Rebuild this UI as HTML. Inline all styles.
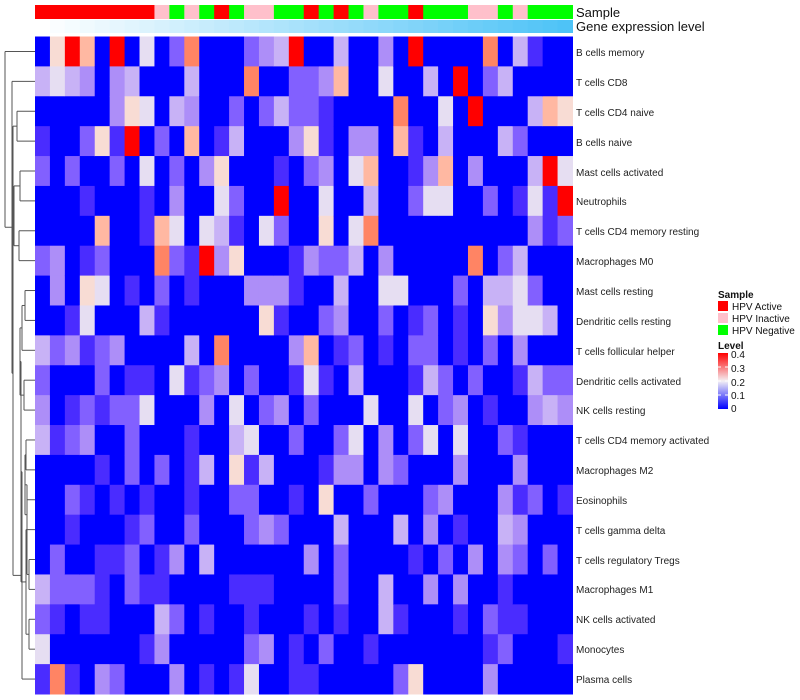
<!DOCTYPE html>
<html><head><meta charset="utf-8">
<style>
html,body{margin:0;padding:0;background:#fff;}
body{width:800px;height:700px;overflow:hidden;position:relative;font-family:"Liberation Sans",sans-serif;}
svg{position:absolute;left:0;top:0;}
.rl{font-size:10px;fill:#222;}
</style></head><body>
<svg id="s" width="800" height="700" xmlns="http://www.w3.org/2000/svg">
<g id="cells"></g>
<g id="dend" stroke="#555" stroke-width="1" fill="none"></g>
<text x="576" y="17" font-size="13" fill="#111">Sample</text>
<text x="576" y="31" font-size="13" fill="#111">Gene expression level</text>
<text class="rl" x="576" y="56">B cells memory</text>
<text class="rl" x="576" y="86">T cells CD8</text>
<text class="rl" x="576" y="116">T cells CD4 naive</text>
<text class="rl" x="576" y="146">B cells naive</text>
<text class="rl" x="576" y="176">Mast cells activated</text>
<text class="rl" x="576" y="205">Neutrophils</text>
<text class="rl" x="576" y="235">T cells CD4 memory resting</text>
<text class="rl" x="576" y="265">Macrophages M0</text>
<text class="rl" x="576" y="295">Mast cells resting</text>
<text class="rl" x="576" y="325">Dendritic cells resting</text>
<text class="rl" x="576" y="355">T cells follicular helper</text>
<text class="rl" x="576" y="385">Dendritic cells activated</text>
<text class="rl" x="576" y="414">NK cells resting</text>
<text class="rl" x="576" y="444">T cells CD4 memory activated</text>
<text class="rl" x="576" y="474">Macrophages M2</text>
<text class="rl" x="576" y="504">Eosinophils</text>
<text class="rl" x="576" y="534">T cells gamma delta</text>
<text class="rl" x="576" y="564">T cells regulatory  Tregs</text>
<text class="rl" x="576" y="593">Macrophages M1</text>
<text class="rl" x="576" y="623">NK cells activated</text>
<text class="rl" x="576" y="653">Monocytes</text>
<text class="rl" x="576" y="683">Plasma cells</text>
<text x="718" y="298" font-size="10" font-weight="bold" fill="#111">Sample</text>
<rect x="718" y="301" width="10" height="10" fill="#ff0000"/>
<text x="732" y="310" font-size="10" fill="#111">HPV Active</text>
<rect x="718" y="313" width="10" height="10" fill="#ffc0cb"/>
<text x="732" y="322" font-size="10" fill="#111">HPV Inactive</text>
<rect x="718" y="325" width="10" height="10" fill="#00ff00"/>
<text x="732" y="334" font-size="10" fill="#111">HPV Negative</text>
<text x="718" y="349" font-size="10" font-weight="bold" fill="#111">Level</text>
<defs><linearGradient id="lg" x1="0" y1="0" x2="0" y2="1">
<stop offset="0" stop-color="#ff0000"/><stop offset="0.5" stop-color="#f4f0f4"/><stop offset="1" stop-color="#0000ff"/></linearGradient></defs>
<rect x="718" y="353" width="10" height="56" fill="url(#lg)"/>
<g stroke="#fff" stroke-width="1"><line x1="718" y1="367" x2="721" y2="367"/><line x1="725" y1="367" x2="728" y2="367"/><line x1="718" y1="381" x2="721" y2="381"/><line x1="725" y1="381" x2="728" y2="381"/><line x1="718" y1="395" x2="721" y2="395"/><line x1="725" y1="395" x2="728" y2="395"/></g>
<g font-size="10" fill="#111">
<text x="731" y="358">0.4</text><text x="731" y="372">0.3</text><text x="731" y="386">0.2</text><text x="731" y="399">0.1</text><text x="731" y="412">0</text></g>
</svg>
<script>
var M=[
[0,6,9,7,0,9,0,5,0,2,8,0,0,0,2,3,4,9,0,0,4,0,0,3,0,9,0,0,0,0,8,0,4,1,0,0],
[4,5,4,3,0,3,4,0,0,0,4,0,0,0,8,0,0,2,2,3,7,0,0,5,0,0,4,0,9,0,2,4,0,0,0,0],
[0,0,0,0,0,3,6,5,0,4,3,0,0,2,0,2,4,2,2,1,0,0,0,0,8,0,0,5,0,9,0,0,0,4,7,6],
[1,0,0,2,6,1,9,0,2,0,7,0,1,4,0,0,0,3,6,1,0,3,3,0,7,1,0,4,0,0,0,4,2,0,0,0],
[2,0,2,0,0,2,0,5,0,2,0,3,6,0,0,0,1,0,2,3,0,5,7,0,0,1,3,7,0,3,0,0,0,4,9,5],
[0,0,0,1,0,0,0,1,0,3,0,0,5,2,0,0,9,0,0,5,0,0,4,0,0,2,5,5,0,0,2,0,1,5,1,9],
[0,0,0,0,7,0,0,1,7,5,0,5,4,1,0,5,2,0,0,6,0,5,8,0,0,0,0,0,0,0,0,0,0,3,1,2],
[2,3,0,1,2,0,0,0,8,2,1,9,3,6,0,0,0,1,3,2,2,4,0,3,0,0,0,0,0,8,0,2,4,0,0,0],
[0,3,0,6,5,0,1,0,2,0,1,0,0,0,3,3,3,1,0,0,4,0,0,5,5,0,0,0,2,0,4,4,5,2,0,0],
[0,0,1,5,0,0,0,4,1,0,0,0,0,0,0,6,1,0,0,2,3,0,0,2,0,1,2,0,1,0,6,3,5,5,4,0],
[4,2,3,1,2,3,0,0,0,0,4,0,8,0,0,0,0,3,7,0,1,2,0,1,0,2,2,0,1,0,2,0,3,0,0,0],
[2,0,0,0,2,0,1,1,0,5,1,2,3,0,2,0,0,1,5,1,0,4,0,0,0,1,4,2,0,2,0,0,1,4,2,2],
[3,0,1,2,1,2,2,5,0,0,0,3,0,5,0,2,3,0,2,0,0,0,5,0,0,5,0,2,3,0,1,0,0,3,4,3],
[4,1,2,3,0,0,2,0,0,0,1,0,0,4,5,0,0,2,0,0,2,5,0,3,0,2,5,0,5,0,0,2,1,0,0,0],
[0,0,0,0,1,0,2,0,2,0,1,4,0,6,1,4,0,0,0,1,3,3,0,3,2,0,0,0,3,0,0,0,3,0,0,0],
[0,0,2,1,0,1,0,1,0,0,1,0,0,2,2,0,0,1,0,6,0,0,2,0,0,0,2,3,0,0,0,3,1,2,0,1],
[0,0,1,0,0,0,1,2,0,0,2,0,0,0,2,3,2,0,0,0,4,0,0,0,4,0,3,0,1,0,0,4,3,0,0,0],
[0,2,0,0,1,1,2,0,1,3,0,4,0,0,0,0,0,0,3,0,2,0,0,0,0,1,0,2,0,3,0,3,2,0,2,0],
[4,2,2,2,1,0,2,1,1,0,0,0,0,1,1,1,0,0,0,0,2,0,0,4,0,0,3,0,3,0,0,1,0,0,0,0],
[2,1,0,1,1,0,0,0,4,2,0,1,0,0,1,0,0,0,1,0,1,0,0,4,1,0,0,0,1,0,2,1,1,0,0,0],
[5,0,0,0,0,0,0,1,3,0,0,0,0,0,2,3,0,1,0,2,0,0,1,0,0,0,0,0,0,0,1,2,0,0,0,1],
[1,8,1,0,3,2,0,0,0,3,0,1,0,1,5,0,0,1,1,0,0,0,0,0,2,6,0,0,0,0,3,0,0,0,0,0]];
var C=["#0000ff","#4a2cff","#8260ff","#ad8ef8","#c8b2f6","#e6def2","#f8dcd4","#ffb8a2","#ff8464","#ff0000"];
var S="RRRRRRRRPGPGRGPPGGRGRGPGGRGGGPPGPGGG";
var SC={R:"#ff0000",P:"#ffc0cb",G:"#00ff00"};
var x0=35,x1=572.5,cw=(x1-x0)/36,y0=36.5,y1=694,rh=(y1-y0)/22;
var ns="http://www.w3.org/2000/svg",g=document.getElementById("cells");
function R(x,y,w,h,f){var r=document.createElementNS(ns,"rect");r.setAttribute("x",x);r.setAttribute("y",y);r.setAttribute("width",w);r.setAttribute("height",h);r.setAttribute("fill",f);g.appendChild(r);}
for(var j=0;j<36;j++){
 var xx=x0+j*cw;
 R(xx,5,cw+0.5,14,SC[S[j]]);
 var t=j/35;var r=Math.round(255+(78-255)*t),gg=Math.round(255+(195-255)*t),b=Math.round(255+(247-255)*t);
 R(xx,20,cw+0.5,13,"rgb("+r+","+gg+","+b+")");
 for(var i=0;i<22;i++){R(xx,y0+i*rh,cw+0.5,rh+0.5,C[M[i][j]]);}
}
var d=document.getElementById("dend");
function L(a,b,c,e){var l=document.createElementNS(ns,"line");l.setAttribute("x1",a);l.setAttribute("y1",b);l.setAttribute("x2",c);l.setAttribute("y2",e);d.appendChild(l);}
function yc(i){return y0+(i+0.5)*rh;}
function draw(n){
 if(typeof n==="number")return [x0,yc(n)];
 var a=draw(n.c[0]),b=draw(n.c[1]);
 L(n.h,a[1],a[0],a[1]);L(n.h,b[1],b[0],b[1]);L(n.h,a[1],n.h,b[1]);
 return [n.h,(a[1]+b[1])/2];
}
var P23={h:17,c:[2,3]},P45={h:20,c:[4,5]},P67={h:19,c:[6,7]};
var Q={h:14,c:[P45,P67]};
var P89={h:25,c:[8,9]},P810={h:22,c:[P89,10]};
var P1112={h:24,c:[11,12]},R1={h:20,c:[P810,P1112]};
var P1314={h:26,c:[13,14]},P1516={h:27,c:[15,16]},R2={h:25,c:[P1314,P1516]};
var P1718={h:29,c:[17,18]},R3={h:27,c:[R2,P1718]};
var P1920={h:29,c:[19,20]},R4={h:26,c:[R3,P1920]};
var R6={h:21,c:[R1,R4]},R7={h:22,c:[R6,21]};
var T3={h:13,c:[P23,Q]},T2={h:13,c:[T3,R7]};
var T1={h:12,c:[1,T2]},root={h:5,c:[0,T1]};
draw(root);
</script>
</body></html>
